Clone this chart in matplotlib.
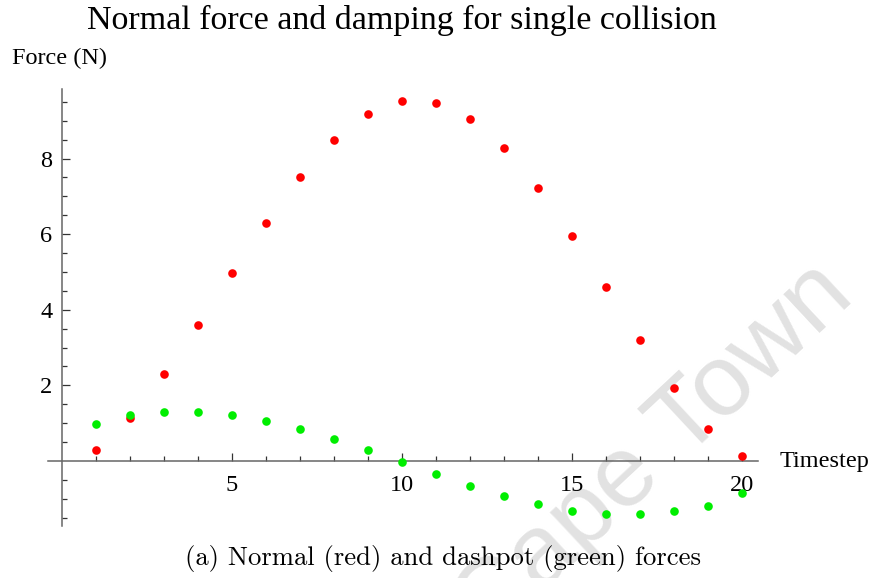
import matplotlib
matplotlib.use("Agg")
import matplotlib.pyplot as plt
import numpy as np
from matplotlib.ticker import FixedLocator

# Data
timestep = list(range(1, 21))
normal_force = [0.30, 1.15, 2.29, 3.59, 4.96, 6.29, 7.50, 8.48, 9.17, 9.51,
                9.47, 9.05, 8.28, 7.22, 5.96, 4.59, 3.21, 1.92, 0.85, 0.13]
dashpot_force = [0.99, 1.21, 1.29, 1.29, 1.21, 1.05, 0.84, 0.57, 0.28, -0.04,
                 -0.35, -0.67, -0.93, -1.14, -1.31, -1.40, -1.40, -1.33, -1.18, -0.84]
x_major = [5, 10, 15, 20]
y_major = [2, 4, 6, 8]

W, H = 878, 578
fig = plt.figure(figsize=(W / 100, H / 100), dpi=100)

serif = ["Liberation Serif", "DejaVu Serif"]

# watermark (behind everything)
fig.text(654 / W, 1 - 452 / H, "Cape Town", rotation=43, fontsize=73,
         color="#e2e2e2", family=["Liberation Sans", "DejaVu Sans"],
         ha="center", va="center", rotation_mode="anchor", zorder=-5)

ax = fig.add_axes([48 / W, 1 - 526 / H, 710 / W, (526 - 89) / H])
ax.patch.set_alpha(0)
ax.set_zorder(1)
ax.set_xlim(-0.41, 20.47)
ax.set_ylim(-1.72, 9.84)

ax.plot(timestep, normal_force, "o", color="#ff0000", ms=6.2, mec="none", zorder=3)
ax.plot(timestep, dashpot_force, "o", color="#00ee00", ms=6.2, mec="none", zorder=3)

for s in ["top", "right"]:
    ax.spines[s].set_visible(False)
ax.spines["left"].set_position(("data", 0))
ax.spines["bottom"].set_position(("data", 0))
for s in ["left", "bottom"]:
    ax.spines[s].set_color("#666666")
    ax.spines[s].set_linewidth(1.1)

ax.xaxis.set_major_locator(FixedLocator(x_major))
ax.yaxis.set_major_locator(FixedLocator(y_major))
x_minor = [v for v in range(1, 21) if v not in x_major]
y_minor = [v / 2 for v in range(-3, 20) if v / 2 not in y_major and v != 0]
ax.xaxis.set_minor_locator(FixedLocator(x_minor))
ax.yaxis.set_minor_locator(FixedLocator(y_minor))
ax.set_xticklabels([str(v) for v in x_major])
ax.set_yticklabels([str(v) for v in y_major])
ax.tick_params(which="major", direction="in", length=6, width=0.9, color="#333333",
               labelsize=17.5, pad=7)
ax.tick_params(which="minor", direction="in", length=3.5, width=0.9, color="#333333")
ax.tick_params(axis="x", which="major", pad=10)
for lab in ax.get_xticklabels() + ax.get_yticklabels():
    lab.set_family(serif)

fig.text(780 / W, 1 - 461 / H, "Timestep", family=serif, fontsize=17.5,
         ha="left", va="center")
fig.text(12 / W, 1 - 58 / H, "Force (N)", family=serif, fontsize=17.5,
         ha="left", va="center")
fig.text(402 / W, 1 - 20 / H, "Normal force and damping for single collision",
         family=serif, fontsize=24.5, ha="center", va="center")
fig.text(443 / W, 1 - 559 / H, "(a) Normal (red) and dashpot (green) forces",
         family=["cmr10", "DejaVu Serif"], fontsize=19.2, ha="center", va="center")

fig.savefig("out.png", dpi=100)
